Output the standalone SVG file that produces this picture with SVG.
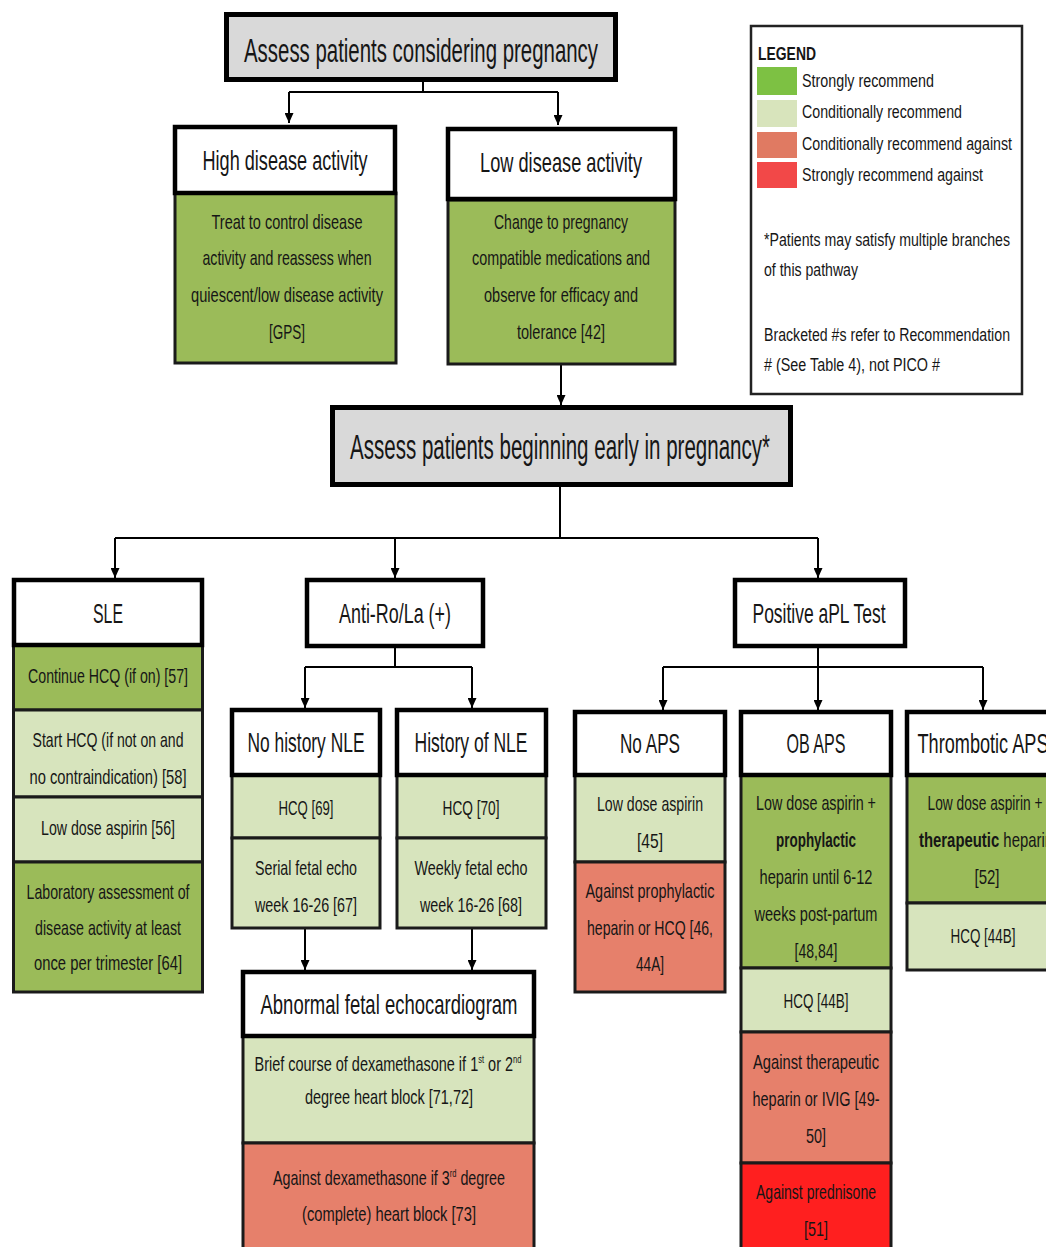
<svg xmlns="http://www.w3.org/2000/svg" width="1046" height="1247" viewBox="0 0 1046 1247">
<defs>
<style>
.hdr{fill:#fff;stroke:#000;stroke-width:4.5}
.gray{fill:#d9d9d9;stroke:#000;stroke-width:5}
.sg{fill:#9bbb59;stroke:#1a1a1a;stroke-width:3}
.cg{fill:#d7e4bd;stroke:#1a1a1a;stroke-width:3}
.ca{fill:#e6806b;stroke:#1a1a1a;stroke-width:3}
.sa{fill:#ff1f1f;stroke:#1a1a1a;stroke-width:3}
text{font-family:"Liberation Sans Narrow","Liberation Sans",Arial,sans-serif;fill:#161616}
.c{text-anchor:middle}
.t{font-size:34px}
.h{font-size:28px}
.b{font-size:21px}
.l{font-size:17.5px}
.bold{font-weight:bold}
.ln{stroke:#000;stroke-width:2;fill:none}
.ar{stroke:#000;stroke-width:2;fill:none;marker-end:url(#ah)}
</style>
<marker id="ah" viewBox="0 0 10 10" refX="10" refY="5" markerWidth="10" markerHeight="9" orient="auto" markerUnits="userSpaceOnUse" preserveAspectRatio="none">
<path d="M0,0 L10,5 L0,10 z" fill="#000"/>
</marker>
</defs>
<rect width="1046" height="1247" fill="#fff"/>

<g id="connectors">
<line class="ln" x1="423" y1="82" x2="423" y2="92"/>
<line class="ln" x1="289" y1="92" x2="558" y2="92"/>
<line class="ar" x1="289" y1="92" x2="289" y2="123"/>
<line class="ar" x1="558" y1="92" x2="558" y2="125"/>
<line class="ar" x1="561" y1="364" x2="561" y2="405"/>
<line class="ln" x1="560" y1="487" x2="560" y2="538"/>
<line class="ln" x1="115" y1="538" x2="818" y2="538"/>
<line class="ar" x1="115" y1="538" x2="115" y2="578"/>
<line class="ar" x1="395" y1="538" x2="395" y2="578"/>
<line class="ar" x1="818" y1="538" x2="818" y2="578"/>
<line class="ln" x1="395" y1="648" x2="395" y2="667"/>
<line class="ln" x1="305" y1="667" x2="472" y2="667"/>
<line class="ar" x1="305" y1="667" x2="305" y2="708"/>
<line class="ar" x1="472" y1="667" x2="472" y2="708"/>
<line class="ln" x1="818" y1="648" x2="818" y2="667"/>
<line class="ln" x1="663" y1="667" x2="983" y2="667"/>
<line class="ar" x1="663" y1="667" x2="663" y2="710"/>
<line class="ar" x1="818" y1="667" x2="818" y2="710"/>
<line class="ar" x1="983" y1="667" x2="983" y2="710"/>
<line class="ar" x1="305" y1="928" x2="305" y2="970"/>
<line class="ar" x1="472" y1="928" x2="472" y2="970"/>
</g>

<g id="assess-considering">
<rect class="gray" x="226.5" y="14.5" width="389" height="65"/>
<text class="c t" x="421" y="62" textLength="354" lengthAdjust="spacingAndGlyphs">Assess patients considering pregnancy</text>
</g>

<g id="high-disease">
<rect class="sg" x="175" y="193" width="221" height="170"/>
<rect class="hdr" x="175" y="127" width="220" height="66"/>
<text class="c h" x="285" y="170" textLength="165" lengthAdjust="spacingAndGlyphs">High disease activity</text>
<text class="c b" x="287" y="229" textLength="151" lengthAdjust="spacingAndGlyphs">Treat to control disease</text>
<text class="c b" x="287" y="265" textLength="169" lengthAdjust="spacingAndGlyphs">activity and reassess when</text>
<text class="c b" x="287" y="302" textLength="192" lengthAdjust="spacingAndGlyphs">quiescent/low disease activity</text>
<text class="c b" x="287" y="339" textLength="36" lengthAdjust="spacingAndGlyphs">[GPS]</text>
</g>

<g id="low-disease">
<rect class="sg" x="448" y="200" width="227" height="164"/>
<rect class="hdr" x="448" y="129" width="227" height="70"/>
<text class="c h" x="561" y="172" textLength="162" lengthAdjust="spacingAndGlyphs">Low disease activity</text>
<text class="c b" x="561" y="229" textLength="134" lengthAdjust="spacingAndGlyphs">Change to pregnancy</text>
<text class="c b" x="561" y="265" textLength="178" lengthAdjust="spacingAndGlyphs">compatible medications and</text>
<text class="c b" x="561" y="302" textLength="154" lengthAdjust="spacingAndGlyphs">observe for efficacy and</text>
<text class="c b" x="561" y="339" textLength="88" lengthAdjust="spacingAndGlyphs">tolerance [42]</text>
</g>

<g id="assess-early">
<rect class="gray" x="332.5" y="407.5" width="458" height="77"/>
<text class="c" style="font-size:35px" x="560" y="459" textLength="420" lengthAdjust="spacingAndGlyphs">Assess patients beginning early in pregnancy*</text>
</g>

<g id="sle">
<rect class="sg" x="13.5" y="645" width="189" height="65"/>
<rect class="cg" x="13.5" y="710" width="189" height="87"/>
<rect class="cg" x="13.5" y="797" width="189" height="65"/>
<rect class="sg" x="13.5" y="862" width="189" height="130"/>
<rect class="hdr" x="14" y="580" width="188" height="65"/>
<text class="c h" x="108" y="623" textLength="30" lengthAdjust="spacingAndGlyphs">SLE</text>
<text class="c b" x="108" y="683" textLength="160" lengthAdjust="spacingAndGlyphs">Continue HCQ (if on) [57]</text>
<text class="c b" x="108" y="747" textLength="151" lengthAdjust="spacingAndGlyphs">Start HCQ (if not on and</text>
<text class="c b" x="108" y="784" textLength="157" lengthAdjust="spacingAndGlyphs">no contraindication) [58]</text>
<text class="c b" x="108" y="835" textLength="134" lengthAdjust="spacingAndGlyphs">Low dose aspirin [56]</text>
<text class="c b" x="108" y="899" textLength="163" lengthAdjust="spacingAndGlyphs">Laboratory assessment of</text>
<text class="c b" x="108" y="935" textLength="146" lengthAdjust="spacingAndGlyphs">disease activity at least</text>
<text class="c b" x="108" y="970" textLength="148" lengthAdjust="spacingAndGlyphs">once per trimester [64]</text>
</g>

<g id="anti-ro">
<rect class="hdr" x="307" y="580" width="176" height="66"/>
<text class="c h" x="395" y="623" textLength="112" lengthAdjust="spacingAndGlyphs">Anti-Ro/La (+)</text>
</g>

<g id="no-history-nle">
<rect class="cg" x="232" y="775" width="148" height="63"/>
<rect class="cg" x="232" y="838" width="148" height="90"/>
<rect class="hdr" x="232" y="710" width="148" height="65"/>
<text class="c h" x="306" y="752" textLength="117" lengthAdjust="spacingAndGlyphs">No history NLE</text>
<text class="c b" x="306" y="815" textLength="55" lengthAdjust="spacingAndGlyphs">HCQ [69]</text>
<text class="c b" x="306" y="875" textLength="102" lengthAdjust="spacingAndGlyphs">Serial fetal echo</text>
<text class="c b" x="306" y="912" textLength="102" lengthAdjust="spacingAndGlyphs">week 16-26 [67]</text>
</g>

<g id="history-nle">
<rect class="cg" x="397" y="775" width="149" height="63"/>
<rect class="cg" x="397" y="838" width="149" height="90"/>
<rect class="hdr" x="397" y="710" width="149" height="65"/>
<text class="c h" x="471" y="752" textLength="113" lengthAdjust="spacingAndGlyphs">History of NLE</text>
<text class="c b" x="471" y="815" textLength="57" lengthAdjust="spacingAndGlyphs">HCQ [70]</text>
<text class="c b" x="471" y="875" textLength="113" lengthAdjust="spacingAndGlyphs">Weekly fetal echo</text>
<text class="c b" x="471" y="912" textLength="102" lengthAdjust="spacingAndGlyphs">week 16-26 [68]</text>
</g>

<g id="abnormal-echo">
<rect class="cg" x="243" y="1036" width="291" height="107"/>
<rect class="ca" x="243" y="1143" width="291" height="112"/>
<rect class="hdr" x="243" y="972" width="291" height="64"/>
<text class="c h" x="389" y="1014" textLength="257" lengthAdjust="spacingAndGlyphs">Abnormal fetal echocardiogram</text>
<text class="c b" x="388" y="1071" textLength="267" lengthAdjust="spacingAndGlyphs">Brief course of dexamethasone if 1<tspan font-size="11" dy="-8">st</tspan><tspan dy="8"> or 2</tspan><tspan font-size="11" dy="-8">nd</tspan></text>
<text class="c b" x="389" y="1104" textLength="168" lengthAdjust="spacingAndGlyphs">degree heart block [71,72]</text>
<text class="c b" x="389" y="1185" textLength="232" lengthAdjust="spacingAndGlyphs">Against dexamethasone if 3<tspan font-size="11" dy="-8">rd</tspan><tspan dy="8"> degree</tspan></text>
<text class="c b" x="389" y="1221" textLength="174" lengthAdjust="spacingAndGlyphs">(complete) heart block [73]</text>
</g>

<g id="positive-apl">
<rect class="hdr" x="735" y="580" width="170" height="66"/>
<text class="c h" x="819" y="623" textLength="133" lengthAdjust="spacingAndGlyphs">Positive aPL Test</text>
</g>

<g id="no-aps">
<rect class="cg" x="575" y="775" width="150" height="87"/>
<rect class="ca" x="575" y="862" width="150" height="130"/>
<rect class="hdr" x="575" y="712" width="150" height="63"/>
<text class="c h" x="650" y="753" textLength="60" lengthAdjust="spacingAndGlyphs">No APS</text>
<text class="c b" x="650" y="811" textLength="106" lengthAdjust="spacingAndGlyphs">Low dose aspirin</text>
<text class="c b" x="650" y="848" textLength="26" lengthAdjust="spacingAndGlyphs">[45]</text>
<text class="c b" x="650" y="898" textLength="129" lengthAdjust="spacingAndGlyphs">Against prophylactic</text>
<text class="c b" x="650" y="935" textLength="126" lengthAdjust="spacingAndGlyphs">heparin or HCQ [46,</text>
<text class="c b" x="650" y="971" textLength="28" lengthAdjust="spacingAndGlyphs">44A]</text>
</g>

<g id="ob-aps">
<rect class="sg" x="741" y="775" width="150" height="193"/>
<rect class="cg" x="741" y="968" width="150" height="64"/>
<rect class="ca" x="741" y="1032" width="150" height="131"/>
<rect class="sa" x="741" y="1163" width="150" height="92"/>
<rect class="hdr" x="741" y="712" width="150" height="63"/>
<text class="c h" x="816" y="753" textLength="59" lengthAdjust="spacingAndGlyphs">OB APS</text>
<text class="c b" x="816" y="810" textLength="120" lengthAdjust="spacingAndGlyphs">Low dose aspirin +</text>
<text class="c b bold" x="816" y="847" textLength="80" lengthAdjust="spacingAndGlyphs">prophylactic</text>
<text class="c b" x="816" y="884" textLength="113" lengthAdjust="spacingAndGlyphs">heparin until 6-12</text>
<text class="c b" x="816" y="921" textLength="123" lengthAdjust="spacingAndGlyphs">weeks post-partum</text>
<text class="c b" x="816" y="958" textLength="43" lengthAdjust="spacingAndGlyphs">[48,84]</text>
<text class="c b" x="816" y="1008" textLength="65" lengthAdjust="spacingAndGlyphs">HCQ [44B]</text>
<text class="c b" x="816" y="1069" textLength="126" lengthAdjust="spacingAndGlyphs">Against therapeutic</text>
<text class="c b" x="816" y="1106" textLength="127" lengthAdjust="spacingAndGlyphs">heparin or IVIG [49-</text>
<text class="c b" x="816" y="1143" textLength="20" lengthAdjust="spacingAndGlyphs">50]</text>
<text class="c b" x="816" y="1199" textLength="120" lengthAdjust="spacingAndGlyphs">Against prednisone</text>
<text class="c b" x="816" y="1236" textLength="24" lengthAdjust="spacingAndGlyphs">[51]</text>
</g>

<g id="thrombotic-aps">
<rect class="sg" x="907" y="775" width="155" height="128"/>
<rect class="cg" x="907" y="903" width="155" height="67"/>
<rect class="hdr" x="907" y="712" width="155" height="63"/>
<text class="c h" x="983" y="753" textLength="131" lengthAdjust="spacingAndGlyphs">Thrombotic APS</text>
<text class="c b" x="985" y="810" textLength="115" lengthAdjust="spacingAndGlyphs">Low dose aspirin +</text>
<text class="c b" x="986" y="847" textLength="134" lengthAdjust="spacingAndGlyphs"><tspan class="bold">therapeutic</tspan> heparin</text>
<text class="c b" x="987" y="884" textLength="25" lengthAdjust="spacingAndGlyphs">[52]</text>
<text class="c b" x="983" y="943" textLength="65" lengthAdjust="spacingAndGlyphs">HCQ [44B]</text>
</g>

<g id="legend">
<rect x="751" y="26" width="271" height="368" fill="#fff" stroke="#222" stroke-width="2.5"/>
<text class="l bold" x="758" y="60" textLength="58" lengthAdjust="spacingAndGlyphs">LEGEND</text>
<rect x="757" y="67" width="40" height="28" fill="#7dc143"/>
<rect x="757" y="100" width="40" height="27" fill="#d8e4bc"/>
<rect x="757" y="132" width="40" height="26" fill="#e07a62"/>
<rect x="757" y="162" width="40" height="26" fill="#f24848"/>
<text class="l" x="802" y="87" textLength="132" lengthAdjust="spacingAndGlyphs">Strongly recommend</text>
<text class="l" x="802" y="118" textLength="160" lengthAdjust="spacingAndGlyphs">Conditionally recommend</text>
<text class="l" x="802" y="150" textLength="210" lengthAdjust="spacingAndGlyphs">Conditionally recommend against</text>
<text class="l" x="802" y="181" textLength="181" lengthAdjust="spacingAndGlyphs">Strongly recommend against</text>
<text class="l" x="764" y="246" textLength="246" lengthAdjust="spacingAndGlyphs">*Patients may satisfy multiple branches</text>
<text class="l" x="764" y="276" textLength="94" lengthAdjust="spacingAndGlyphs">of this pathway</text>
<text class="l" x="764" y="341" textLength="246" lengthAdjust="spacingAndGlyphs">Bracketed #s refer to Recommendation</text>
<text class="l" x="764" y="371" textLength="176" lengthAdjust="spacingAndGlyphs"># (See Table 4), not PICO #</text>
</g>
</svg>
